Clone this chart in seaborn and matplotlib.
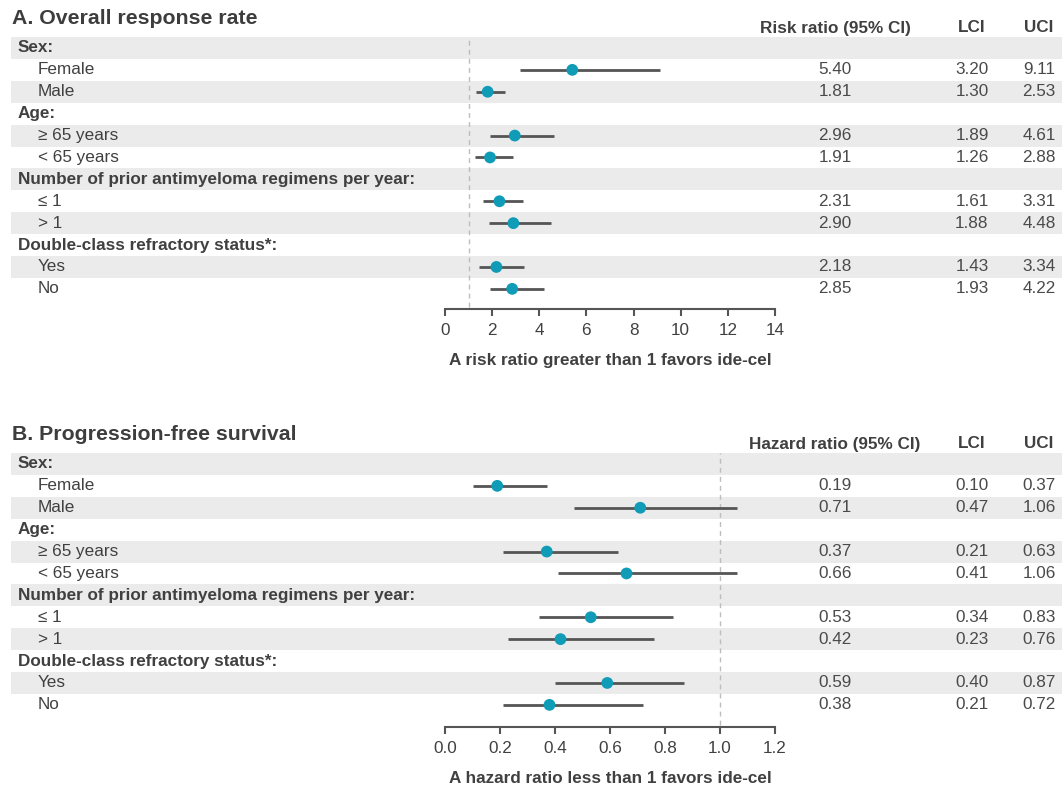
import numpy as np
import pandas as pd
import matplotlib
matplotlib.use("Agg")
import matplotlib.pyplot as plt
import seaborn as sns

# rows of the table (same layout in both panels)
row_labels = ["Sex:", "Female", "Male", "Age:", "\u2265 65 years", "< 65 years",
              "Number of prior antimyeloma regimens per year:", "\u2264 1", "> 1",
              "Double-class refractory status*:", "Yes", "No"]
is_header = [True, False, False, True, False, False, True, False, False, True, False, False]

# A. overall response rate (risk ratio)
orr_est = [None, 5.40, 1.81, None, 2.96, 1.91, None, 2.31, 2.90, None, 2.18, 2.85]
orr_lci = [None, 3.20, 1.30, None, 1.89, 1.26, None, 1.61, 1.88, None, 1.43, 1.93]
orr_uci = [None, 9.11, 2.53, None, 4.61, 2.88, None, 3.31, 4.48, None, 3.34, 4.22]
orr_ticks = [0, 2, 4, 6, 8, 10, 12, 14]

# B. progression-free survival (hazard ratio)
pfs_est = [None, 0.19, 0.71, None, 0.37, 0.66, None, 0.53, 0.42, None, 0.59, 0.38]
pfs_lci = [None, 0.10, 0.47, None, 0.21, 0.41, None, 0.34, 0.23, None, 0.40, 0.21]
pfs_uci = [None, 0.37, 1.06, None, 0.63, 1.06, None, 0.83, 0.76, None, 0.87, 0.72]
pfs_ticks = [0.0, 0.2, 0.4, 0.6, 0.8, 1.0, 1.2]

sns.set_theme(style="white")
plt.rcParams["font.family"] = ["Liberation Sans", "DejaVu Sans"]

W, H = 1062, 785
TXT = "#404040"
NUM = "#4a4a4a"
STRIPE = "#ebebeb"
TEAL = "#109cb7"
LINE = "#555555"
RH = 21.9
FS = 12.3


def box(l, t, r, b):
    return [l / W, 1 - b / H, (r - l) / W, (b - t) / H]


def make_df(est, lci, uci):
    df = pd.DataFrame({"label": row_labels, "header": is_header,
                       "est": est, "lci": lci, "uci": uci})
    df["row"] = np.arange(len(df))
    return df


def draw_panel(fig, df, top, title, col_title, ticks, xmax, xlabel, title_y, head_y, out_px):
    bottom = top + len(df) * RH
    # table background and text
    ax_t = fig.add_axes(box(11, top, 1062, bottom))
    ax_t.set_xlim(11, 1062)
    ax_t.set_ylim(len(df) - 0.5, -0.5)
    ax_t.axis("off")
    for i in df["row"]:
        if i % 2 == 0:
            ax_t.axhspan(i - 0.5, i + 0.5, color=STRIPE, lw=0, zorder=0)
    for _, r in df.iterrows():
        if r["header"]:
            ax_t.text(18, r["row"], r["label"], fontsize=FS, fontweight="bold",
                      color=TXT, va="center", ha="left")
        else:
            ax_t.text(38, r["row"], r["label"], fontsize=FS, color=TXT,
                      va="center", ha="left")
            ax_t.text(835, r["row"], f"{r['est']:.2f}", fontsize=FS, color=NUM,
                      va="center", ha="center")
            ax_t.text(972, r["row"], f"{r['lci']:.2f}", fontsize=FS, color=NUM,
                      va="center", ha="center")
            ax_t.text(1039, r["row"], f"{r['uci']:.2f}", fontsize=FS, color=NUM,
                      va="center", ha="center")

    fig.text(12 / W, 1 - title_y / H, title, fontsize=15.3, fontweight="bold",
             color="#3d3d3d", va="center", ha="left")
    fig.text(835 / W, 1 - head_y / H, col_title, fontsize=FS, fontweight="bold",
             color=TXT, va="center", ha="center")
    fig.text(972 / W, 1 - head_y / H, "LCI", fontsize=FS, fontweight="bold",
             color=TXT, va="center", ha="center")
    fig.text(1039 / W, 1 - head_y / H, "UCI", fontsize=FS, fontweight="bold",
             color=TXT, va="center", ha="center")

    # forest plot
    ax = fig.add_axes(box(445, top, 775, bottom))
    ax.patch.set_alpha(0)
    sub = df[~df["header"]]
    ax.axvline(1, ymin=-out_px / (bottom - top) * 0.8, ymax=1, color="#bdbdbd",
               ls=(0, (3.5, 3)), lw=1, clip_on=False, zorder=1)
    ax.hlines(sub["row"], sub["lci"], sub["uci"], color=LINE, lw=2, zorder=2)
    sns.scatterplot(data=sub, x="est", y="row", ax=ax, color=TEAL, s=72,
                    edgecolor="none", zorder=3, legend=False)
    ax.set_xlim(0, xmax)
    ax.set_ylim(len(df) - 0.5, -0.5)
    ax.set_yticks([])
    ax.set_ylabel("")
    ax.set_xticks(ticks)
    ax.set_xticklabels([f"{t:g}" if xmax > 5 else f"{t:.1f}" for t in ticks])
    for s in ["top", "left", "right"]:
        ax.spines[s].set_visible(False)
    ax.spines["bottom"].set_position(("outward", out_px * 0.72))
    ax.spines["bottom"].set_color(LINE)
    ax.spines["bottom"].set_linewidth(1.5)
    ax.tick_params(axis="x", direction="out", length=5, width=1.5, color=LINE,
                   labelsize=FS, labelcolor=TXT, pad=5, bottom=True)
    ax.set_xlabel(xlabel, fontsize=FS, fontweight="bold", color=TXT, labelpad=11)


def main():
    fig = plt.figure(figsize=(W / 100, H / 100), dpi=100)
    df_orr = make_df(orr_est, orr_lci, orr_uci)
    df_pfs = make_df(pfs_est, pfs_lci, pfs_uci)
    draw_panel(fig, df_orr, 37, "A. Overall response rate", "Risk ratio (95% CI)",
               orr_ticks, 14, "A risk ratio greater than 1 favors ide-cel", 19, 28, 9)
    draw_panel(fig, df_pfs, 453, "B. Progression-free survival", "Hazard ratio (95% CI)",
               pfs_ticks, 1.2, "A hazard ratio less than 1 favors ide-cel", 435, 444, 11)
    fig.savefig("out.png", dpi=100)
    plt.close(fig)


if __name__ == "__main__":
    main()
